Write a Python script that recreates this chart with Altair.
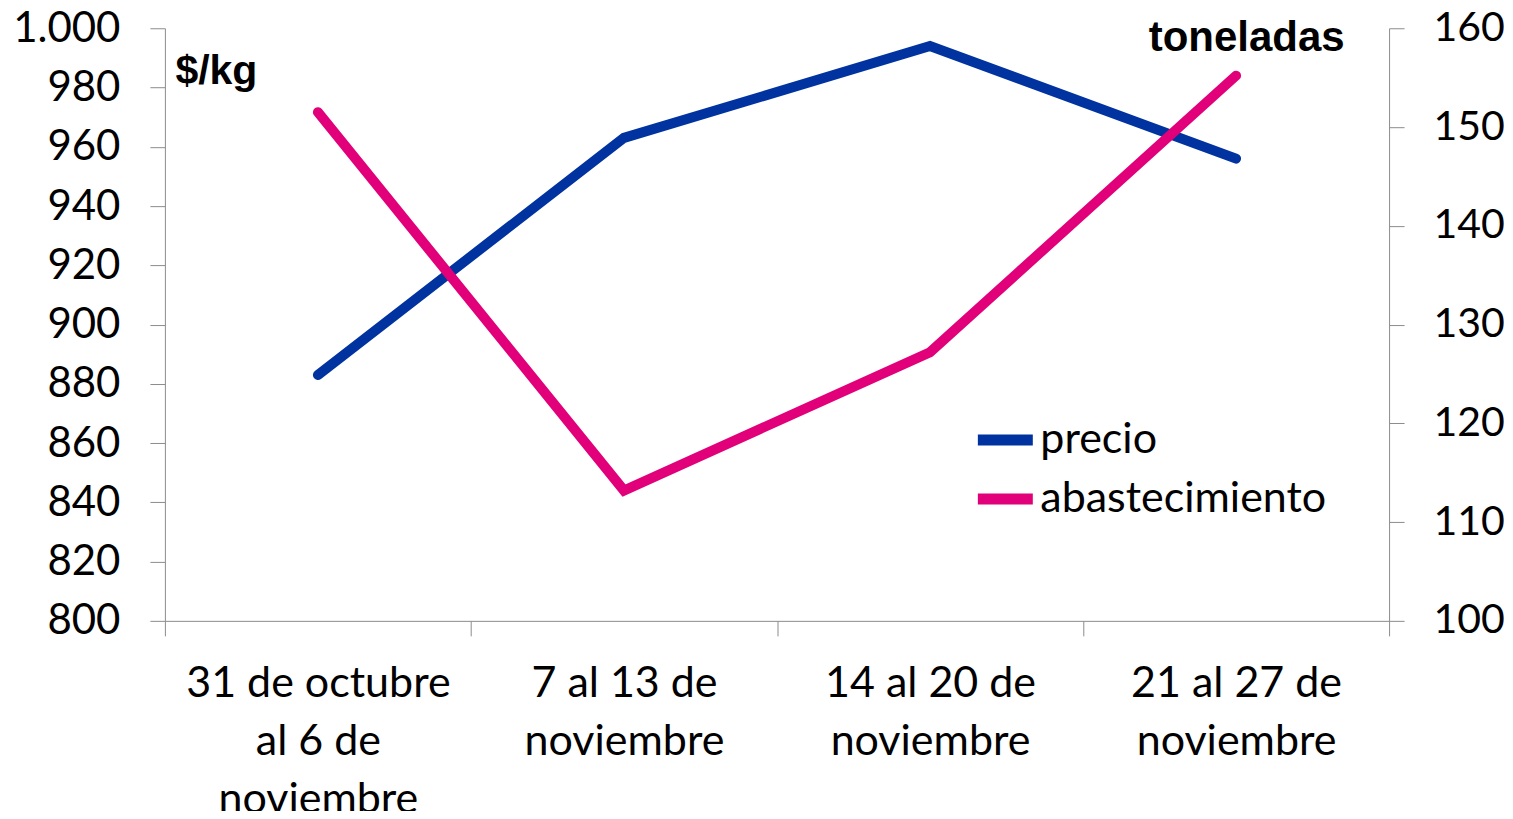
import altair as alt
import pandas as pd

# Data
semanas = [
    "31 de octubre|al 6 de|noviembre",
    "7 al 13 de|noviembre",
    "14 al 20 de|noviembre",
    "21 al 27 de|noviembre",
]
precio = [883, 963, 994, 956]            # $/kg (left axis)
abastecimiento = [151.5, 113.2, 127.2, 155.2]  # toneladas (right axis)
series = ["precio", "abastecimiento"]
colores = ["#0033A0", "#E2007A"]
ticks_precio = [800, 820, 840, 860, 880, 900, 920, 940, 960, 980, 1000]
ticks_ton = [100, 110, 120, 130, 140, 150, 160]

df = pd.DataFrame(
    {
        "semana": semanas * 2,
        "serie": ["precio"] * 4 + ["abastecimiento"] * 4,
        "valor": precio + abastecimiento,
    }
)

LABEL_FONT = "Lato"
TITLE_FONT = "Liberation Sans"
GRAY = "#8c8c8c"

x_enc = alt.X(
    "semana:N",
    sort=semanas,
    scale=alt.Scale(type="band", paddingInner=0, paddingOuter=0),
    axis=alt.Axis(
        title=None,
        labelExpr="split(datum.label, '|')",
        labelAngle=0,
        labelFont=LABEL_FONT,
        labelFontSize=43,
        labelColor="black",
        labelLineHeight=58,
        labelBaseline="top",
        labelPadding=27,
        tickBand="extent",
        tickSize=15,
        tickColor=GRAY,
        domainColor=GRAY,
        labelLimit=0,
    ),
)

color_enc = alt.Color(
    "serie:N",
    scale=alt.Scale(domain=series, range=colores),
    legend=alt.Legend(
        title=None,
        orient="none",
        legendX=808,
        legendY=379,
        padding=0,
        symbolType="stroke",
        symbolStrokeWidth=11,
        symbolSize=3025,
        labelFont=LABEL_FONT,
        labelFontSize=43,
        labelColor="black",
        labelOffset=2,
        rowPadding=4,
        labelLimit=0,
    ),
)

left = (
    alt.Chart(df)
    .transform_filter(alt.datum.serie == "precio")
    .mark_line(strokeWidth=10, strokeCap="round")
    .encode(
        x=x_enc,
        y=alt.Y(
            "valor:Q",
            scale=alt.Scale(domain=[800, 1000], nice=False, zero=False),
            axis=alt.Axis(
                orient="left",
                values=ticks_precio,
                labelExpr="replace(format(datum.value, ','), ',', '.')",
                labelFont=LABEL_FONT,
                labelFontSize=42,
                labelColor="black",
                labelPadding=30,
                tickSize=15,
                tickColor=GRAY,
                domainColor=GRAY,
                grid=False,
                title="$/kg",
                titleAngle=0,
                titleX=10,
                titleY=55,
                titleAlign="left",
                titleBaseline="alphabetic",
                titleFont=TITLE_FONT,
                titleFontSize=41,
                titleFontWeight="bold",
                titleColor="black",
            ),
        ),
        color=color_enc,
    )
)

right = (
    alt.Chart(df)
    .transform_filter(alt.datum.serie == "abastecimiento")
    .mark_line(strokeWidth=10, strokeCap="round")
    .encode(
        x=x_enc,
        y=alt.Y(
            "valor:Q",
            scale=alt.Scale(domain=[100, 160], nice=False, zero=False),
            axis=alt.Axis(
                orient="right",
                values=ticks_ton,
                labelFont=LABEL_FONT,
                labelFontSize=41,
                labelColor="black",
                labelPadding=29,
                tickSize=15,
                tickColor=GRAY,
                domainColor=GRAY,
                grid=False,
                title="toneladas",
                titleAngle=0,
                titleX=-45,
                titleY=22,
                titleAlign="right",
                titleBaseline="alphabetic",
                titleFont=TITLE_FONT,
                titleFontSize=42,
                titleFontWeight="bold",
                titleColor="black",
            ),
        ),
        color=color_enc,
    )
)

chart = (
    alt.layer(left, right)
    .resolve_scale(y="independent")
    .properties(
        width=1225,
        height=593,
        autosize=alt.AutoSizeParams(type="none"),
        padding={"left": 157, "top": 20, "right": 116, "bottom": 190},
        background="white",
    )
    .configure_view(stroke=None)
)

chart.save("out.html", embed_options={"renderer": "svg", "actions": False})
